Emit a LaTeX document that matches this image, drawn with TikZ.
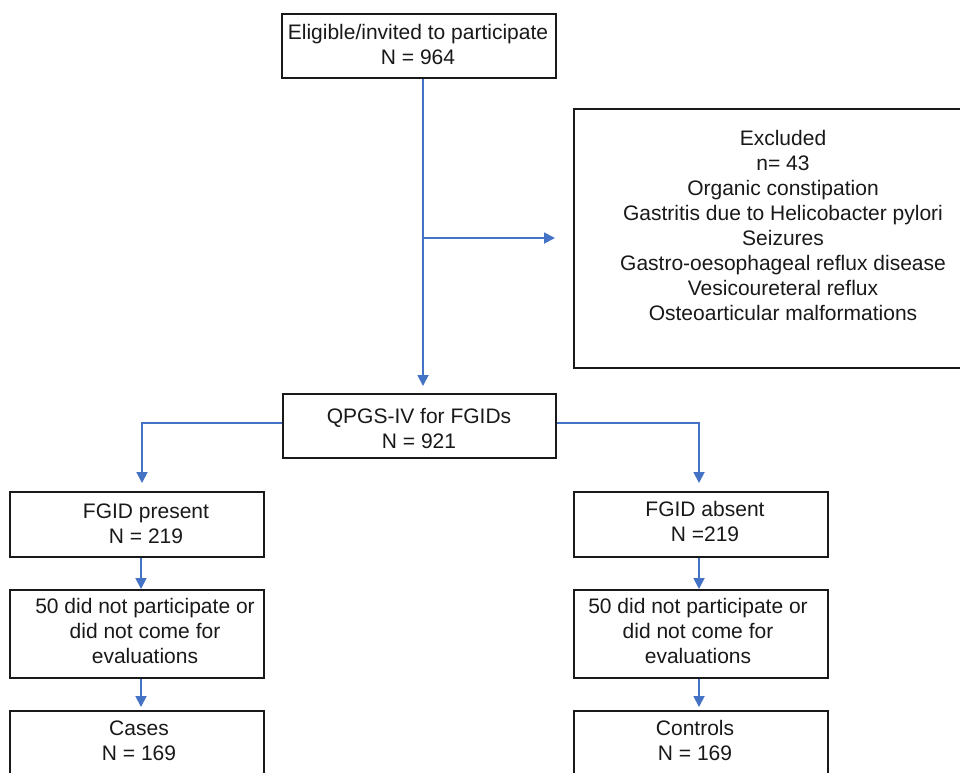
\documentclass[tikz,border=0pt]{standalone}
\usepackage{fontspec}
\setmainfont{Liberation Sans}
\usetikzlibrary{arrows.meta}
\definecolor{flowblue}{RGB}{68,114,196}
\begin{document}
\begin{tikzpicture}[x=1pt,y=-1pt,
  box/.style={draw=black!90, line width=1.8pt, inner sep=0pt, anchor=north west},
  txt/.style={align=center, inner sep=0pt, font=\fontsize{21}{25}\selectfont, text=black!90},
  flow/.style={draw=flowblue, line width=1.8pt},
  flowarrow/.style={flow, -{Triangle[length=11pt,width=11pt]}}]
\useasboundingbox (0,0) rectangle (960,772);
\clip (0,0) rectangle (960,772);
\fill[white] (0,0) rectangle (960,772);
% boxes
\node[box, minimum width=274, minimum height=64] (top) at (281,13) {};
\node[box, minimum width=420, minimum height=259] (ex) at (573,108) {};
\node[box, minimum width=273, minimum height=64] (qp) at (282,393) {};
\node[box, minimum width=254, minimum height=65] (fp) at (9,491) {};
\node[box, minimum width=254, minimum height=65] (fa) at (573,491) {};
\node[box, minimum width=254, minimum height=88] (nl) at (9,589) {};
\node[box, minimum width=254, minimum height=88] (nr) at (573,589) {};
\node[box, minimum width=254, minimum height=90] (cs) at (9,710) {};
\node[box, minimum width=254, minimum height=90] (ct) at (573,710) {};
% texts
\node[txt] (ttop) at (418,44) {Eligible/invited to participate\\N = 964};
\node[txt] (tex) at (783,225.5) {Excluded\\n= 43\\Organic constipation\\Gastritis due to Helicobacter pylori\\Seizures\\Gastro-oesophageal reflux disease\\Vesicoureteral reflux\\Osteoarticular malformations};
\node[txt] (tqp) at (419,428) {QPGS-IV for FGIDs\\N = 921};
\node[txt] (tfp) at (146,524) {FGID present\\N = 219};
\node[txt] (tfa) at (705,521) {FGID absent\\N =219};
\node[txt] (tnl) at (145,631) {50 did not participate or\\did not come for\\evaluations};
\node[txt] (tnr) at (698,631) {50 did not participate or\\did not come for\\evaluations};
\node[txt] (tcs) at (139,740.5) {Cases\\N = 169};
\node[txt] (tct) at (695,740.5) {Controls\\N = 169};
% connector coordinates
\coordinate (mainx) at (423,238);
\coordinate (lx) at (142,423);
\coordinate (rx) at (699,423);
\coordinate (lcol) at (141,0);
\coordinate (rcol) at (699,0);
% connectors
\draw[flowarrow, shorten >=7pt] (top.south -| mainx) -- (qp.north -| mainx);
\draw[flowarrow, shorten >=18pt] (mainx) -- (ex.west |- mainx);
\draw[flowarrow, shorten >=8pt] (qp.west |- lx) -- (lx) -- (fp.north -| lx);
\draw[flowarrow, shorten >=8pt] (qp.east |- rx) -- (rx) -- (fa.north -| rx);
\draw[flowarrow] (fp.south -| lcol) -- (nl.north -| lcol);
\draw[flowarrow, shorten >=3pt] (nl.south -| lcol) -- (cs.north -| lcol);
\draw[flowarrow] (fa.south -| rcol) -- (nr.north -| rcol);
\draw[flowarrow, shorten >=3pt] (nr.south -| rcol) -- (ct.north -| rcol);
\end{tikzpicture}
\end{document}
